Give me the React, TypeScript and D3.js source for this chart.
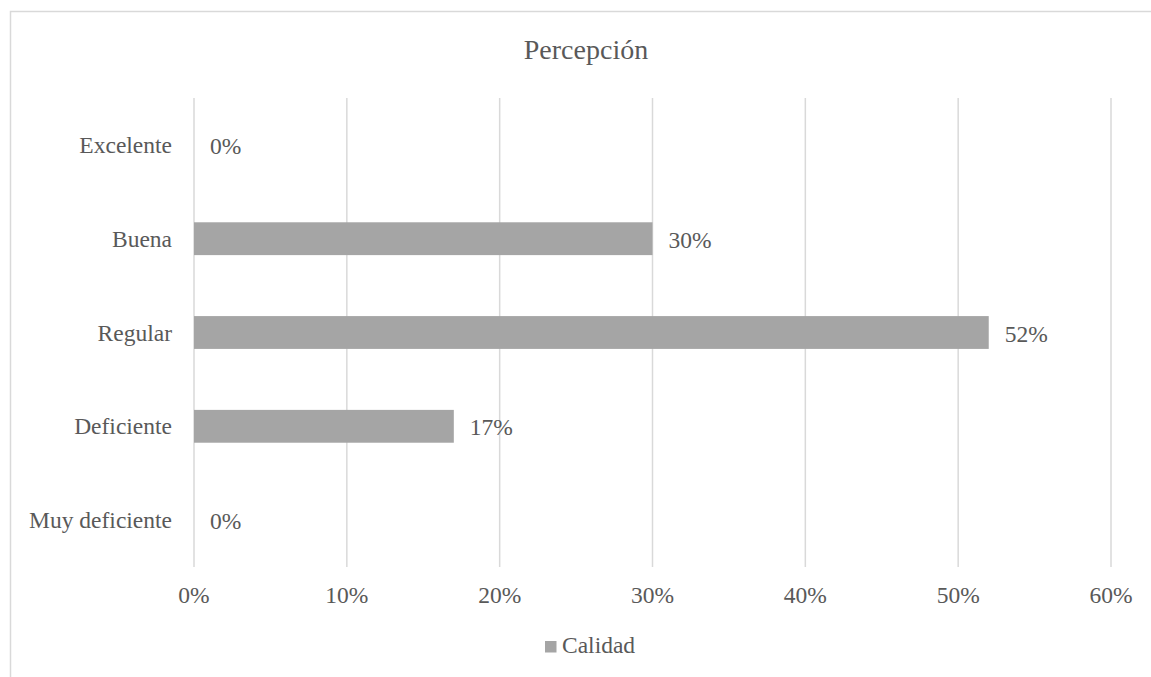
import React from "react";
import * as d3 from "d3";

// Survey perception of quality, share of responses per rating
const categories = ["Excelente", "Buena", "Regular", "Deficiente", "Muy deficiente"];
const values = [0, 0.3, 0.52, 0.17, 0];
const tickValues = [0, 0.1, 0.2, 0.3, 0.4, 0.5, 0.6];
const seriesName = "Calidad";
const title = "Percepción";

const W = 1151;
const H = 677;
const FONT = '"Liberation Serif", "Times New Roman", Times, serif';
const TEXT = "#595959";
const GRID = "#d9d9d9";
const BAR = "#a5a5a5";

const txt: React.CSSProperties = { fontFamily: FONT };

export default function App() {
  const x = d3.scaleLinear().domain([0, 0.6]).range([194, 1111]);
  const y = d3.scaleBand<string>().domain(categories).range([98, 567]).paddingInner(0.65).paddingOuter(0.325);
  const fmt = d3.format(".0%");
  const band = y.bandwidth();

  return (
    <svg
      width={W}
      height={H}
      style={{ position: "absolute", left: 0, top: 0, background: "#fff" }}
    >
      <rect x={10.5} y={11.5} width={1160} height={700} fill="#fff" stroke={GRID} strokeWidth={1.5} />
      <text x={586} y={59} textAnchor="middle" fontSize={28} fill={TEXT} style={txt}>
        {title}
      </text>
      {tickValues.map((t) => (
        <g key={t}>
          <line x1={x(t)} x2={x(t)} y1={98} y2={567} stroke={GRID} strokeWidth={1.5} />
          <text x={x(t)} y={603} textAnchor="middle" fontSize={23.5} fill={TEXT} style={txt}>
            {fmt(t)}
          </text>
        </g>
      ))}
      {categories.map((c, i) => {
        const y0 = y(c)!;
        const cy = y0 + band / 2;
        return (
          <g key={c}>
            <text x={172} y={cy + 8} textAnchor="end" fontSize={23.5} fill={TEXT} style={txt}>
              {c}
            </text>
            {values[i] > 0 && (
              <rect x={x(0)} y={y0} width={x(values[i]) - x(0)} height={band} fill={BAR} />
            )}
            <text x={x(values[i]) + 16} y={cy + 9} fontSize={23.5} fill={TEXT} style={txt}>
              {fmt(values[i])}
            </text>
          </g>
        );
      })}
      <rect x={545} y={641} width={11.5} height={11.5} fill={BAR} />
      <text x={562} y={653} fontSize={23.5} fill={TEXT} style={txt}>
        {seriesName}
      </text>
    </svg>
  );
}
